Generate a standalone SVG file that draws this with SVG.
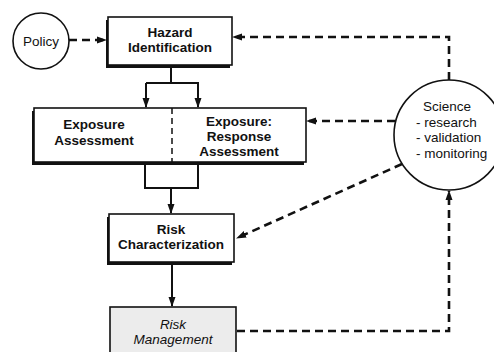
<svg xmlns="http://www.w3.org/2000/svg" width="494" height="352" viewBox="0 0 494 352">
<style>
.box{fill:#fff;stroke:#111;stroke-width:1.6}
.sh{fill:#111}
.t{font-family:"Liberation Sans",Arial,sans-serif;font-size:13.5px;fill:#111;text-anchor:middle}
.b{font-weight:bold}
.s{stroke:#111;stroke-width:2;fill:none}
.d{stroke:#111;stroke-width:2.6;fill:none;stroke-dasharray:8 5}
</style>
<defs>
<marker id="ah" viewBox="0 0 10 10" refX="9" refY="5" markerWidth="10" markerHeight="10" markerUnits="userSpaceOnUse" orient="auto">
<path d="M0,1.5 L10,5 L0,8.5 z" fill="#111"/>
</marker>
</defs>
<rect width="494" height="352" fill="#fff"/>
<g id="connectors">
<path class="s" d="M171,65 V83 M146,83 H199"/>
<path class="s" d="M146,83 V107" marker-end="url(#ah)"/>
<path class="s" d="M198,83 V107" marker-end="url(#ah)"/>
<path class="s" d="M145,162 V188 H198 V162 M171,188 V213"/>
<path class="s" d="M171,188 V213" marker-end="url(#ah)"/>
<path class="s" d="M172,263 V306" marker-end="url(#ah)"/>
<path class="d" d="M69,40 H106" marker-end="url(#ah)"/>
<path class="d" d="M449,80 V37 H233" marker-end="url(#ah)"/>
<path class="d" d="M395,121 H307" marker-end="url(#ah)"/>
<path class="d" d="M402,164 L237,238" marker-end="url(#ah)"/>
<path class="d" d="M237,331 H449 V191" marker-end="url(#ah)"/>
</g>
<g id="policy">
<circle cx="41" cy="41" r="28" fill="#fff" stroke="#111" stroke-width="1.6"/>
<text class="t" x="41" y="46">Policy</text>
</g>
<g id="hazard">
<rect class="sh" x="106" y="20" width="124" height="48"/>
<rect class="box" x="108" y="17" width="124" height="48"/>
<text class="t b" x="170" y="37">Hazard</text>
<text class="t b" x="170" y="52">Identification</text>
</g>
<g id="exposure">
<rect class="sh" x="32" y="111" width="272" height="54"/>
<rect class="box" x="34" y="108" width="272" height="54"/>
<line x1="172" y1="108" x2="172" y2="162" stroke="#111" stroke-width="1.5" stroke-dasharray="6 4"/>
<text class="t b" x="94" y="129">Exposure</text>
<text class="t b" x="94" y="145">Assessment</text>
<text class="t b" x="239" y="126">Exposure:</text>
<text class="t b" x="239" y="141">Response</text>
<text class="t b" x="239" y="156">Assessment</text>
</g>
<g id="riskchar">
<rect class="sh" x="107" y="217" width="125" height="48"/>
<rect class="box" x="109" y="214" width="125" height="48"/>
<text class="t b" x="171" y="234">Risk</text>
<text class="t b" x="171" y="249">Characterization</text>
</g>
<g id="riskmgmt">
<rect x="110" y="307" width="126" height="48" fill="#ececec" stroke="#111" stroke-width="1.6"/>
<text class="t" x="173" y="329" font-style="italic">Risk</text>
<text class="t" x="173" y="344" font-style="italic">Management</text>
</g>
<g id="science">
<circle cx="449" cy="135" r="55" fill="#fff" stroke="#111" stroke-width="1.6"/>
<text class="t" x="423" y="111" text-anchor="start" style="text-anchor:start">Science</text>
<text class="t" x="416" y="127" style="text-anchor:start">- research</text>
<text class="t" x="416" y="142" style="text-anchor:start">- validation</text>
<text class="t" x="416" y="158" style="text-anchor:start">- monitoring</text>
</g>
</svg>
